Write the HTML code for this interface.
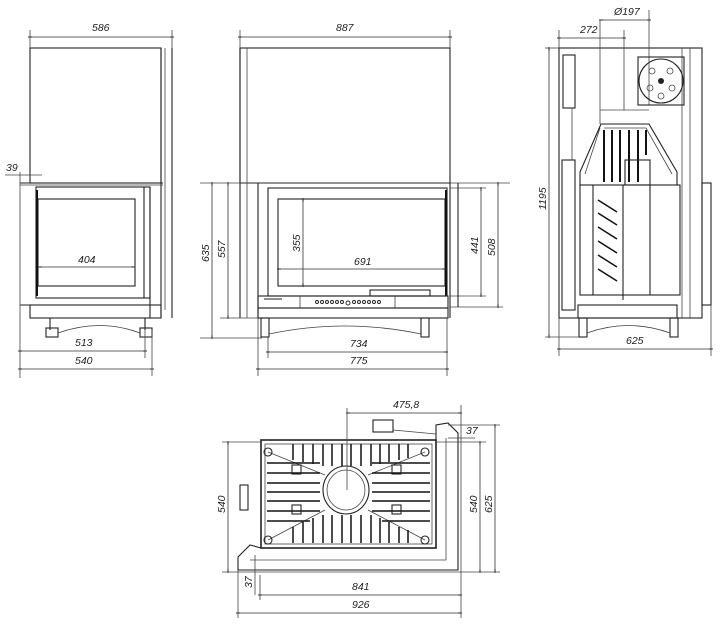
<!DOCTYPE html>
<html><head><meta charset="utf-8"><style>
html,body{margin:0;padding:0;background:#fff}
svg{display:block}
text{font-family:"Liberation Sans",sans-serif;font-size:10.5px;font-style:italic;fill:#222}
.l{stroke:#222;stroke-width:1.1;fill:none}
.t{stroke:#444;stroke-width:.8;fill:none}
.k{stroke:#111;stroke-width:2;fill:none}
.d{stroke:#333;stroke-width:.8;fill:none;marker-start:url(#a);marker-end:url(#a)}
</style></head><body>
<svg width="723" height="625" viewBox="0 0 723 625" xmlns="http://www.w3.org/2000/svg">
<defs><marker id="a" viewBox="0 0 10 10" refX="5" refY="5" markerWidth="6" markerHeight="6" orient="auto"><path d="M1,5 L9,5" stroke="#222" stroke-width="2"/></marker></defs>

<!-- VIEW 1 -->
<rect class="l" x="30" y="48" width="131" height="135"/>
<line class="l" x1="161" y1="48" x2="161" y2="318"/>
<line class="t" x1="165" y1="48" x2="165" y2="310"/>
<line class="l" x1="172" y1="48" x2="172" y2="318"/>
<line class="l" x1="20" y1="183" x2="163" y2="183"/>
<line class="t" x1="20" y1="185" x2="163" y2="185"/>
<rect class="l" x="36" y="187" width="114" height="111"/>
<rect class="l" x="38" y="199" width="97" height="87"/>
<line class="k" x1="37" y1="190" x2="37" y2="296"/>
<line class="l" x1="144" y1="187" x2="144" y2="298"/>
<line class="l" x1="150" y1="187" x2="150" y2="318"/>
<line class="l" x1="20" y1="305" x2="160" y2="305"/>
<rect class="l" x="30" y="305" width="131" height="13"/>
<line class="l" x1="50" y1="318" x2="50" y2="330"/><line class="l" x1="145" y1="318" x2="145" y2="330"/>
<rect class="l" x="46" y="328" width="12" height="9"/><rect class="l" x="140" y="328" width="12" height="9"/>
<path class="t" d="M58,333 Q100,318 140,333"/>
<line class="t" x1="30" y1="30" x2="30" y2="48"/><line class="t" x1="172" y1="30" x2="172" y2="48"/>
<line class="d" x1="30" y1="37" x2="172" y2="37"/><text x="92" y="31">586</text>
<line class="t" x1="5" y1="175" x2="42" y2="175"/><text x="6" y="171">39</text>
<line class="t" x1="20" y1="172" x2="20" y2="378"/>
<line class="d" x1="40" y1="267" x2="133" y2="267"/><text x="78" y="263">404</text>
<line class="d" x1="20" y1="351" x2="145" y2="351"/><text x="75" y="346">513</text>
<line class="d" x1="20" y1="369" x2="152" y2="369"/><text x="75" y="364">540</text>
<line class="t" x1="145" y1="330" x2="145" y2="358"/><line class="t" x1="152" y1="330" x2="152" y2="376"/>

<!-- VIEW 2 -->
<rect class="l" x="240" y="48" width="210" height="135"/>
<line class="l" x1="240" y1="48" x2="240" y2="318"/>
<line class="t" x1="247" y1="48" x2="247" y2="318"/>
<line class="t" x1="200" y1="183" x2="510" y2="183"/>
<line class="t" x1="200" y1="338" x2="262" y2="338"/>
<line class="t" x1="220" y1="318" x2="262" y2="318"/>
<line class="t" x1="450" y1="188" x2="486" y2="188"/>
<line class="t" x1="450" y1="296" x2="486" y2="296"/>
<line class="t" x1="450" y1="307" x2="503" y2="307"/>
<line class="l" x1="258" y1="183" x2="258" y2="318"/>
<line class="l" x1="450" y1="183" x2="450" y2="318"/>
<line class="l" x1="458" y1="183" x2="458" y2="307"/>
<rect class="l" x="268" y="188" width="179" height="108"/>
<rect class="l" x="278" y="199" width="167" height="87"/>
<line class="k" x1="446" y1="190" x2="446" y2="296"/>
<rect class="l" x="258" y="296" width="190" height="12"/>
<line class="t" x1="300" y1="296" x2="300" y2="308"/><line class="t" x1="395" y1="296" x2="395" y2="308"/>
<rect class="l" x="370" y="290" width="60" height="6"/>
<g class="l" style="stroke-width:.9">
<circle cx="317" cy="302" r="1.5"/><circle cx="322" cy="302" r="1.5"/><circle cx="327" cy="302" r="1.5"/><circle cx="332" cy="302" r="1.5"/><circle cx="337" cy="302" r="1.5"/><circle cx="342" cy="302" r="1.5"/><circle cx="348" cy="303" r="2"/><circle cx="354" cy="302" r="1.5"/><circle cx="359" cy="302" r="1.5"/><circle cx="364" cy="302" r="1.5"/><circle cx="369" cy="302" r="1.5"/><circle cx="374" cy="302" r="1.5"/><circle cx="379" cy="302" r="1.5"/>
</g>
<line class="l" x1="264" y1="299" x2="282" y2="299"/>
<rect class="l" x="258" y="308" width="190" height="10"/>
<rect class="l" x="261" y="318" width="8" height="19"/><rect class="l" x="421" y="318" width="8" height="19"/>
<path class="t" d="M269,334 Q345,318 421,334"/>
<line class="t" x1="240" y1="30" x2="240" y2="48"/><line class="t" x1="450" y1="30" x2="450" y2="48"/>
<line class="d" x1="240" y1="37" x2="450" y2="37"/><text x="336" y="31">887</text>
<line class="d" x1="212" y1="184" x2="212" y2="337"/><text transform="translate(209,262) rotate(-90)">635</text>
<line class="d" x1="228" y1="184" x2="228" y2="317"/><text transform="translate(225,258) rotate(-90)">557</text>
<line class="d" x1="303" y1="200" x2="303" y2="285"/><text transform="translate(300,252) rotate(-90)">355</text>
<line class="d" x1="279" y1="269" x2="444" y2="269"/><text x="354" y="265">691</text>
<line class="d" x1="481" y1="189" x2="481" y2="295"/><text transform="translate(478,254) rotate(-90)">441</text>
<line class="d" x1="498" y1="184" x2="498" y2="306"/><text transform="translate(495,256) rotate(-90)">508</text>
<line class="t" x1="268" y1="337" x2="268" y2="358"/><line class="t" x1="258" y1="318" x2="258" y2="376"/><line class="t" x1="447" y1="318" x2="447" y2="376"/>
<line class="d" x1="268" y1="352" x2="446" y2="352"/><text x="350" y="347">734</text>
<line class="d" x1="258" y1="369" x2="447" y2="369"/><text x="350" y="364">775</text>

<!-- VIEW 3 -->
<rect class="l" x="559" y="48" width="143" height="270"/>
<line class="t" x1="690" y1="48" x2="690" y2="318"/><line class="t" x1="682" y1="48" x2="682" y2="318"/>
<rect class="l" x="702" y="183" width="9" height="122"/>
<rect class="l" x="563" y="55" width="12" height="53"/>
<line class="t" x1="572" y1="108" x2="572" y2="160"/>
<rect class="l" x="562" y="160" width="13" height="150"/>
<line class="t" x1="600" y1="20" x2="600" y2="124"/><line class="t" x1="649" y1="10" x2="649" y2="105"/>
<line class="t" x1="624" y1="30" x2="624" y2="110"/><line class="t" x1="600" y1="110" x2="649" y2="110"/>
<rect class="l" x="638" y="57" width="46" height="48"/>
<circle class="l" cx="661" cy="81" r="22"/>
<circle cx="661" cy="81" r="3" fill="#222"/>
<circle class="t" cx="652" cy="71" r="3"/><circle class="t" cx="670" cy="71" r="3"/><circle class="t" cx="650" cy="88" r="3"/><circle class="t" cx="672" cy="88" r="3"/><circle class="t" cx="661" cy="96" r="3"/>
<path class="l" d="M601,124 L649,124 L677,172 L677,185 L580,185 L580,172 Z"/>
<path class="t" d="M604,128 L646,128 L672,174 M585,174 L600,128"/>
<line class="k" x1="604" y1="130" x2="604" y2="182"/><line class="k" x1="612" y1="130" x2="612" y2="182"/><line class="k" x1="620" y1="130" x2="620" y2="182"/><line class="k" x1="629" y1="130" x2="629" y2="182"/><line class="k" x1="638" y1="130" x2="638" y2="182"/><line class="k" x1="646" y1="130" x2="646" y2="155"/>
<rect class="l" x="625" y="160" width="25" height="25"/>
<rect class="l" x="580" y="185" width="100" height="110"/>
<line class="l" x1="593" y1="185" x2="593" y2="295"/><line class="l" x1="623" y1="185" x2="623" y2="300"/><line class="l" x1="650" y1="185" x2="650" y2="295"/>
<line class="k" x1="598" y1="200" x2="617" y2="212" style="stroke-width:1.5"/><line class="k" x1="598" y1="213" x2="617" y2="225" style="stroke-width:1.5"/><line class="k" x1="598" y1="227" x2="617" y2="239" style="stroke-width:1.5"/><line class="k" x1="598" y1="241" x2="617" y2="253" style="stroke-width:1.5"/><line class="k" x1="598" y1="255" x2="617" y2="267" style="stroke-width:1.5"/><line class="k" x1="598" y1="269" x2="617" y2="281" style="stroke-width:1.5"/>
<rect class="l" x="578" y="305" width="99" height="13"/>
<rect class="l" x="579" y="318" width="8" height="19"/><rect class="l" x="670" y="318" width="8" height="19"/>
<path class="t" d="M587,333 Q628,318 670,333"/>
<line class="t" x1="545" y1="48" x2="559" y2="48"/><line class="t" x1="545" y1="337" x2="579" y2="337"/>
<line class="d" x1="549" y1="49" x2="549" y2="336"/><text transform="translate(546,210) rotate(-90)">1195</text>
<line class="t" x1="559" y1="30" x2="559" y2="48"/>
<line class="d" x1="559" y1="38" x2="624" y2="38"/><text x="580" y="33">272</text>
<line class="d" x1="601" y1="20" x2="649" y2="20"/><text x="614" y="15">Ø197</text>
<line class="t" x1="559" y1="318" x2="559" y2="356"/><line class="t" x1="711" y1="305" x2="711" y2="356"/>
<line class="d" x1="559" y1="349" x2="711" y2="349"/><text x="626" y="344">625</text>

<!-- VIEW 4 -->
<rect class="l" x="261" y="440" width="175" height="108" style="stroke-width:1.6"/>
<rect class="t" x="265" y="444" width="167" height="100"/>
<path class="l" d="M436,440 L436,425 L448,423 L458,433 L458,570 L238,570 L238,557 L250,545 L261,548"/>
<path class="t" d="M446,438 L446,560 L250,560"/>
<rect class="l" x="373" y="420" width="20" height="12"/>
<line class="t" x1="393" y1="430" x2="436" y2="434"/>
<rect class="l" x="240" y="485" width="8" height="25"/>
<ellipse class="l" cx="346" cy="490" rx="23" ry="24"/>
<ellipse class="t" cx="346" cy="490" rx="19" ry="20"/>
<path class="t" d="M268,452 L325,475 M268,540 L325,510 M425,452 L368,475 M425,540 L368,510"/>
<circle class="l" cx="268" cy="452" r="4"/><circle class="l" cx="425" cy="452" r="4"/><circle class="l" cx="268" cy="540" r="4"/><circle class="l" cx="425" cy="540" r="4"/>
<g class="k" style="stroke-width:1.5">
<line x1="293" y1="444" x2="293" y2="460"/><line x1="303" y1="444" x2="303" y2="462"/><line x1="313" y1="444" x2="313" y2="464"/><line x1="323" y1="444" x2="323" y2="466"/><line x1="332" y1="444" x2="332" y2="466"/><line x1="342" y1="444" x2="342" y2="466"/><line x1="351" y1="444" x2="351" y2="466"/><line x1="361" y1="444" x2="361" y2="466"/><line x1="371" y1="444" x2="371" y2="466"/><line x1="380" y1="444" x2="380" y2="464"/><line x1="389" y1="444" x2="389" y2="462"/><line x1="399" y1="444" x2="399" y2="460"/><line x1="408" y1="444" x2="408" y2="458"/>
<line x1="293" y1="527" x2="293" y2="543"/><line x1="303" y1="522" x2="303" y2="543"/><line x1="313" y1="518" x2="313" y2="543"/><line x1="323" y1="515" x2="323" y2="543"/><line x1="332" y1="515" x2="332" y2="543"/><line x1="342" y1="515" x2="342" y2="543"/><line x1="351" y1="515" x2="351" y2="543"/><line x1="361" y1="515" x2="361" y2="543"/><line x1="371" y1="515" x2="371" y2="543"/><line x1="380" y1="518" x2="380" y2="543"/><line x1="389" y1="522" x2="389" y2="543"/><line x1="399" y1="527" x2="399" y2="543"/><line x1="408" y1="530" x2="408" y2="543"/>
<line x1="267" y1="463" x2="320" y2="463"/><line x1="267" y1="473" x2="320" y2="473"/><line x1="267" y1="483" x2="320" y2="483"/><line x1="267" y1="492" x2="320" y2="492"/><line x1="267" y1="501" x2="320" y2="501"/><line x1="267" y1="511" x2="320" y2="511"/><line x1="267" y1="521" x2="310" y2="521"/>
<line x1="372" y1="463" x2="430" y2="463"/><line x1="372" y1="473" x2="430" y2="473"/><line x1="372" y1="483" x2="430" y2="483"/><line x1="372" y1="492" x2="430" y2="492"/><line x1="372" y1="501" x2="430" y2="501"/><line x1="372" y1="511" x2="430" y2="511"/><line x1="382" y1="521" x2="430" y2="521"/>
</g>
<rect class="l" x="292" y="465" width="9" height="9"/><rect class="l" x="392" y="465" width="9" height="9"/><rect class="l" x="292" y="505" width="9" height="9"/><rect class="l" x="392" y="505" width="9" height="9"/>
<line class="t" x1="347" y1="408" x2="347" y2="490"/>
<line class="t" x1="461" y1="405" x2="461" y2="618"/>
<line class="d" x1="348" y1="413" x2="460" y2="413"/><text x="393" y="408">475,8</text>
<line class="t" x1="448" y1="425" x2="500" y2="425"/><line class="t" x1="448" y1="438" x2="475" y2="438"/>
<text x="466" y="434">37</text>
<line class="t" x1="222" y1="442" x2="261" y2="442"/><line class="t" x1="222" y1="572" x2="500" y2="572"/>
<line class="d" x1="228" y1="443" x2="228" y2="571"/><text transform="translate(225,513) rotate(-90)">540</text>
<line class="t" x1="436" y1="442" x2="486" y2="442"/>
<line class="d" x1="480" y1="443" x2="480" y2="571"/><text transform="translate(477,513) rotate(-90)">540</text>
<line class="d" x1="495" y1="426" x2="495" y2="571"/><text transform="translate(492,513) rotate(-90)">625</text>
<line class="t" x1="255" y1="555" x2="255" y2="595"/><text transform="translate(252,588) rotate(-90)">37</text>
<line class="t" x1="260" y1="575" x2="260" y2="600"/><line class="t" x1="238" y1="570" x2="238" y2="618"/>
<line class="d" x1="260" y1="595" x2="460" y2="595"/><text x="352" y="590">841</text>
<line class="d" x1="238" y1="613" x2="460" y2="613"/><text x="352" y="608">926</text>
</svg>
</body></html>
